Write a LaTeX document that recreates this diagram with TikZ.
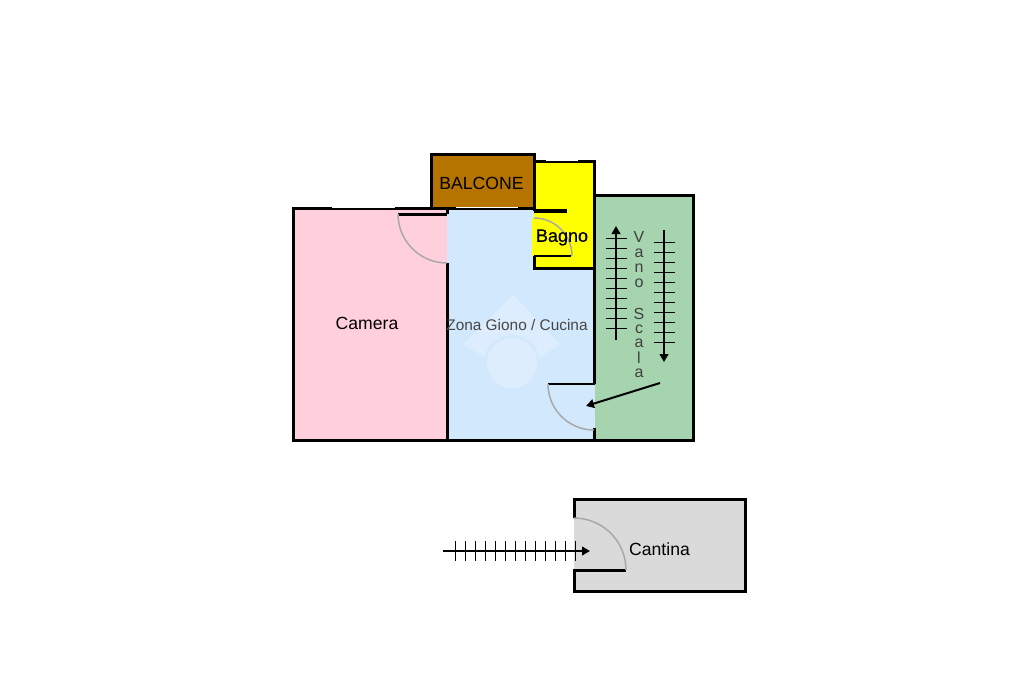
\documentclass[tikz,border=0pt]{standalone}
\usepackage{fontspec}
\setmainfont{Liberation Sans}
\newfontfamily\fakebold[FakeBold=0.6]{Liberation Sans}
\usetikzlibrary{arrows.meta}
\definecolor{pinkroom}{HTML}{FFD0DC}
\definecolor{blueroom}{HTML}{D2E8FC}
\definecolor{yellowroom}{HTML}{FFFF00}
\definecolor{brownroom}{HTML}{B57400}
\definecolor{greenroom}{HTML}{A6D4AE}
\definecolor{greyroom}{HTML}{DADADA}
\definecolor{logotint}{HTML}{DDEDFD}
\definecolor{doorarc}{HTML}{A8A8A8}
\tikzset{
  wall/.style={line width=2.6pt,line cap=butt,line join=miter,black,shift={(0.4,0.4)}},
  thinwall/.style={line width=1.5pt,black},
  doorswing/.style={line width=1.1pt,doorarc},
  win/.style={line width=0.75pt,white},
  stairtick/.style={line width=0.75pt,black},
  stairline/.style={line width=1.5pt,black},
  roomlabel/.style={inner sep=0pt,text=black,font=\fontsize{13.2}{15}\selectfont},
  letter/.style={inner sep=0pt,text=black!75,font=\fontsize{12}{13}\selectfont},
  tipped/.style={-{Triangle[length=6pt,width=6.5pt]}}
}
\begin{document}
\begin{tikzpicture}[x=0.75pt,y=-0.75pt]
\useasboundingbox (0,0) rectangle (1024,682);
% room fills
\fill[pinkroom] (293,208) rectangle (447,440);
\fill[blueroom] (447,208) rectangle (595,440);
\fill[yellowroom] (534,161) rectangle (594,268);
\fill[brownroom] (431,154) rectangle (534,208);
\fill[greenroom] (595,195) rectangle (693,440);
\fill[greyroom] (574,499) rectangle (745,591);
% door sectors
\fill[yellowroom] (532,218) rectangle (534,256);
% watermark
\fill[logotint] (513,295) -- (560,344) -- (537,360) -- (513,338) -- (489,360) -- (463,344) -- cycle;
\fill[blueroom] (512,363) circle[radius=28];
\fill[logotint] (512,363) circle[radius=25];
% walls
\draw[wall] (447,214) -- (447,208) (447,208) -- (293,208) -- (293,440) -- (447,440) -- (447,263);
\draw[wall] (398,214) -- (447,214);
\draw[wall] (431,208) -- (431,154) -- (534,154) -- (534,208);
\draw[wall] (431,208) -- (534,208);
\draw[wall] (534,211) -- (534,161) -- (594,161) -- (594,268) -- (534,268) -- (534,256);
\draw[line width=3pt] (534,211) -- (567,211);
\draw[thinwall] (534,256) -- (571,256);
\draw[wall] (594,268) -- (594,384);
\draw[thinwall] (548,384) -- (595,384);
\draw[wall] (447,440) -- (693,440) -- (693,195) -- (594,195);
\draw[wall] (594,428) -- (594,440);
\draw[wall] (574,518) -- (574,499) -- (745,499) -- (745,591) -- (574,591) -- (574,570);
\draw[wall] (573,570) -- (626,570);
% windows
\draw[win] (332,207.5) -- (395,207.5);
\draw[win] (456,207.5) -- (518,207.5);
\draw[win] (546,160.5) -- (578,160.5);
% door arcs
\draw[doorswing] (398,214) arc[start angle=180,end angle=90,radius=49];
\draw[doorswing] (534,218) arc[start angle=270,end angle=360,radius=38];
\draw[doorswing] (548,384) arc[start angle=180,end angle=90,radius=46];
\draw[doorswing] (574,518) arc[start angle=270,end angle=360,radius=52];
% stairs
\coordinate (upfrom) at (616,340); \coordinate (upto) at (616,226);
\draw[stairline,tipped] (upfrom) -- (upto);
\foreach \y in {238,248,...,328} \draw[stairtick] (606,\y) -- (627,\y);
\coordinate (downfrom) at (664,230); \coordinate (downto) at (664,362);
\draw[stairline,tipped] (downfrom) -- (downto);
\foreach \y in {242,252,...,342} \draw[stairtick] (654,\y) -- (675,\y);
\coordinate (doorfrom) at (660,383); \coordinate (doorto) at (586,406);
\draw[stairline,tipped] (doorfrom) -- (doorto);
\coordinate (cellarfrom) at (443,551); \coordinate (cellarto) at (590,551);
\draw[stairline,tipped] (cellarfrom) -- (cellarto);
\foreach \x in {455,465,...,575} \draw[stairtick] (\x,541) -- (\x,561);
% labels
\node[roomlabel] (camera) at (367,323.5) {Camera};
\node[roomlabel] (balcone) at (481.5,183.5) {BALCONE};
\node[roomlabel,font=\fontsize{13.5}{15}\fakebold] (bagno) at (562,237.5) {Bagno};
\node[roomlabel,text=black!72,font=\fontsize{11.55}{14}\selectfont] (zona) at (517,325) {Zona Giono / Cucina};
\node[roomlabel] (cantina) at (659.5,549.5) {Cantina};
\node[letter] (v1) at (639,237) {V};
\node[letter] (v2) at (639,253.5) {a};
\node[letter] (v3) at (639,268.5) {n};
\node[letter] (v4) at (639,283.5) {o};
\node[letter] (v5) at (639,313.5) {S};
\node[letter] (v6) at (639,329.5) {c};
\node[letter] (v7) at (639,343.5) {a};
\node[letter] (v8) at (639,358) {l};
\node[letter] (v9) at (639,373.5) {a};
\end{tikzpicture}
\end{document}
